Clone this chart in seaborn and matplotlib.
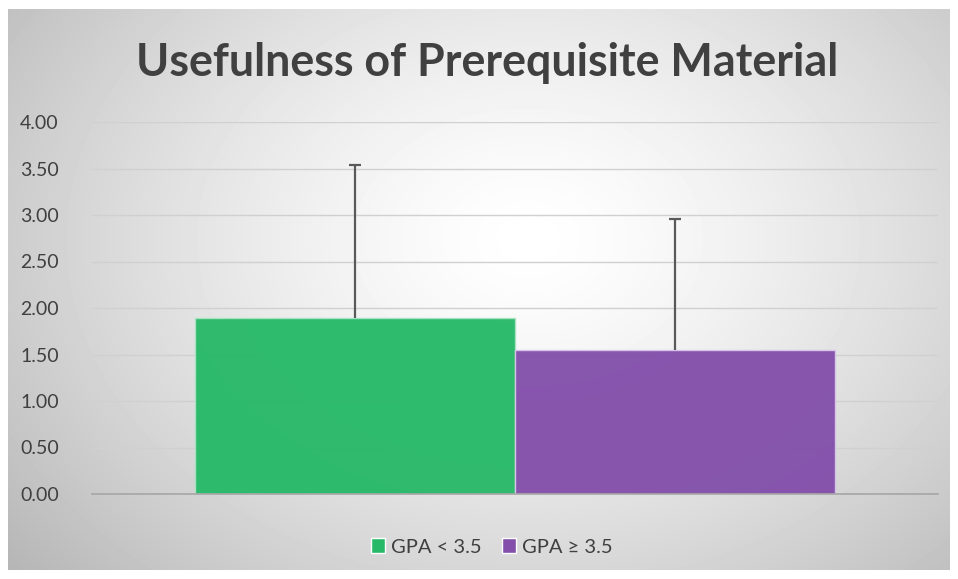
import numpy as np
import pandas as pd
import matplotlib.pyplot as plt
import seaborn as sns

# data
groups = ["GPA < 3.5", "GPA \u2265 3.5"]
means = [1.89, 1.55]
errs = [1.65, 1.41]
colors = ["#27B968", "#834FAA"]
edges = ["#A9E3C3", "#D9C6EA"]

sns.set_theme(style="white")
plt.rcParams['font.family'] = ['Lato', 'DejaVu Sans']

fig = plt.figure(figsize=(9.58, 5.79), dpi=100)
fig.patch.set_facecolor("white")

# radial gradient background for the chart area
bg = fig.add_axes([8/958, 1-570/579, 942/958, 561/579], zorder=0)
yy, xx = np.mgrid[0:561, 0:942]
r = np.sqrt(((xx - 520)/560.0)**2 + ((yy - 230)/420.0)**2)
shade = 1.0 - 0.22*np.clip(r, 0, 1.3)**1.4
bg.imshow(shade, cmap="gray", vmin=0, vmax=1, aspect="auto", interpolation="bilinear")
bg.axis("off")

ax = fig.add_axes([92/958, 1-494/579, 846/958, (494-122)/579], zorder=1)
ax.patch.set_alpha(0)

df = pd.DataFrame({"cat": [""]*2, "group": groups, "mean": means})
sns.barplot(data=df, x="cat", y="mean", hue="group", palette=colors, saturation=1,
            width=0.757, ax=ax, errorbar=None, legend=True, zorder=2)
ax.set_xlim(-0.5, 0.5)

for p, ec in zip(ax.patches, edges):
    p.set_edgecolor(ec)
    p.set_linewidth(1)
    p.set_alpha(0.96)

xs = [p.get_x() + p.get_width()/2 for p in ax.patches[:2]]
eb = ax.errorbar(xs, means, yerr=[[0, 0], errs], fmt="none", ecolor="#595959",
                 elinewidth=1.6, capsize=4.5, capthick=1.6, zorder=3)
# plus-only error bars: drop the caps sitting on the bar tops
eb[1][0].remove()

ax.set_ylim(0, 4)
ax.set_yticks(np.arange(0, 4.01, 0.5))
ax.set_yticklabels([f"{v:.2f}" for v in np.arange(0, 4.01, 0.5)], fontsize=14, color="#404040")
ax.tick_params(axis="y", length=0, pad=24)
ax.set_xticks([])
ax.set_xlabel("")
ax.set_ylabel("")
ax.grid(axis="y", color="#d0d0d0", linewidth=1, zorder=1)
ax.set_axisbelow(True)
for s in ["top", "right", "left"]:
    ax.spines[s].set_visible(False)
ax.spines["bottom"].set_color("#a6a6a6")
ax.spines["bottom"].set_linewidth(1.2)

fig.text(487/958, 1-63/579, "Usefulness of Prerequisite Material", ha="center", va="center",
         fontsize=32.3, fontweight="bold", color="#404040")

handles, labels = ax.get_legend_handles_labels()
ax.legend(handles, labels, loc="center", bbox_to_anchor=(492/958, 1-547/579),
          bbox_transform=fig.transFigure, ncol=2, frameon=False, fontsize=14.5,
          handlelength=0.7, handleheight=0.7, handletextpad=0.3, columnspacing=1.0,
          labelcolor="#404040")

fig.savefig("out.png", dpi=100, facecolor="white")
